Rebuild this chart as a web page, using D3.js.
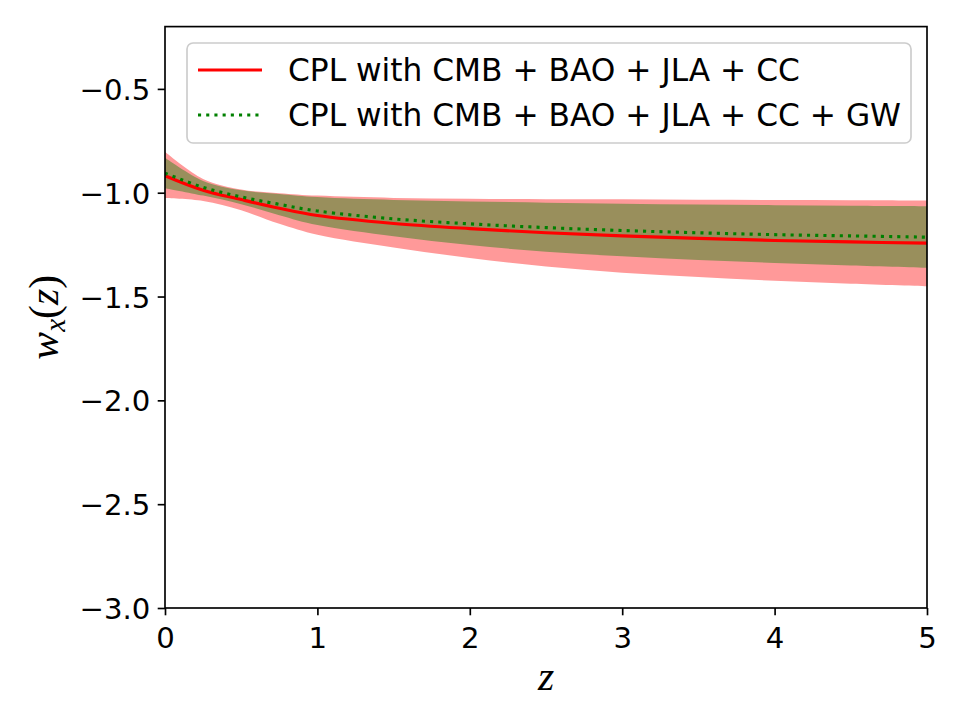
<!DOCTYPE html>
<html>
<head>
<meta charset="utf-8">
<script src="https://cdn.jsdelivr.net/npm/d3@7"></script>
<style>
  html, body { margin: 0; padding: 0; background: #fff; }
  svg { display: block; }
</style>
</head>
<body>
<svg id="chart" width="960" height="720"></svg>
<script>
// ---- data ----
const zValues   = [0, 0.25, 0.5, 0.75, 1, 1.5, 2, 2.5, 3, 3.5, 4, 4.5, 5];
// CPL with CMB + BAO + JLA + CC
const redMean   = [-0.918, -0.988, -1.033, -1.075, -1.110, -1.148, -1.173, -1.193, -1.208, -1.220, -1.230, -1.237, -1.243];
const redUpper  = [-0.803, -0.934, -0.985, -1.002, -1.014, -1.025, -1.029, -1.031, -1.032, -1.034, -1.035, -1.036, -1.037];
const redLower  = [-1.026, -1.040, -1.085, -1.150, -1.203, -1.264, -1.314, -1.355, -1.385, -1.406, -1.424, -1.438, -1.450];
// CPL with CMB + BAO + JLA + CC + GW
const greenMean  = [-0.906, -0.974, -1.020, -1.056, -1.088, -1.126, -1.150, -1.168, -1.182, -1.193, -1.202, -1.208, -1.214];
const greenUpper = [-0.832, -0.943, -0.988, -1.006, -1.021, -1.035, -1.042, -1.048, -1.053, -1.057, -1.060, -1.063, -1.065];
const greenLower = [-0.978, -1.014, -1.055, -1.108, -1.156, -1.210, -1.252, -1.284, -1.306, -1.324, -1.338, -1.350, -1.361];

const xTicks = [0, 1, 2, 3, 4, 5];
const yTicks = [-3.0, -2.5, -2.0, -1.5, -1.0, -0.5];
const legendLabels = ["CPL with CMB + BAO + JLA + CC", "CPL with CMB + BAO + JLA + CC + GW"];

// ---- layout ----
const svg = d3.select("#chart");
const L = 165, R = 927, T = 26.6, B = 608;
const x = d3.scaleLinear().domain([0, 5]).range([L, R]);
const y = d3.scaleLinear().domain([-3, -0.2]).range([B, T]);

const tickFont = "'DejaVu Sans', sans-serif";
const tickSize = 29.17;
const lw = 3.125;

svg.append("defs").append("clipPath").attr("id", "plotclip")
  .append("rect").attr("x", L).attr("y", T).attr("width", R - L).attr("height", B - T);

const g = svg.append("g").attr("clip-path", "url(#plotclip)");

const curve = d3.curveCatmullRom.alpha(0.5);
const idx = d3.range(zValues.length);
const area = (lo, hi) => d3.area()
  .x(i => x(zValues[i])).y0(i => y(lo[i])).y1(i => y(hi[i]))
  .curve(curve);
const line = (vals) => d3.line()
  .x(i => x(zValues[i])).y(i => y(vals[i]))
  .curve(curve);

g.append("path").attr("d", area(redLower, redUpper)(idx))
  .attr("fill", "red").attr("fill-opacity", 0.4);
g.append("path").attr("d", area(greenLower, greenUpper)(idx))
  .attr("fill", "green").attr("fill-opacity", 0.4);
g.append("path").attr("d", line(redMean)(idx))
  .attr("fill", "none").attr("stroke", "red").attr("stroke-width", lw);
g.append("path").attr("d", line(greenMean)(idx))
  .attr("fill", "none").attr("stroke", "green").attr("stroke-width", lw)
  .attr("stroke-dasharray", "3.1,5.1");

// ---- axes ----
const xAxis = d3.axisBottom(x).tickValues(xTicks).tickFormat(d3.format("d"))
  .tickSizeInner(7.3).tickSizeOuter(0).tickPadding(7.3);
const yAxis = d3.axisLeft(y).tickValues(yTicks).tickFormat(d3.format(".1f"))
  .tickSizeInner(7.3).tickSizeOuter(0).tickPadding(7.3);

const gx = svg.append("g").attr("transform", `translate(0,${B})`).call(xAxis);
const gy = svg.append("g").attr("transform", `translate(${L},0)`).call(yAxis);
[gx, gy].forEach(a => {
  a.select(".domain").remove();
  a.selectAll(".tick line").attr("stroke", "#000").attr("stroke-width", 1.67);
  a.selectAll(".tick text").attr("fill", "#000")
    .style("font-family", tickFont).style("font-size", tickSize + "px");
});
gx.selectAll(".tick text").attr("dy", null).attr("y", 39.5);
gy.selectAll(".tick text").attr("dy", "0.36em");

// frame
svg.append("rect").attr("x", L).attr("y", T).attr("width", R - L).attr("height", B - T)
  .attr("fill", "none").attr("stroke", "#000").attr("stroke-width", 1.67);

// axis labels
const mathFont = "'Liberation Serif', 'DejaVu Serif', serif";
svg.append("text").attr("x", (L + R) / 2).attr("y", 690)
  .attr("text-anchor", "middle")
  .style("font-family", mathFont).style("font-size", "41.7px").style("font-style", "italic")
  .text("z");

const yl = svg.append("text")
  .attr("transform", `translate(58,${(T + B) / 2}) rotate(-90)`)
  .attr("text-anchor", "middle")
  .style("font-family", mathFont).style("font-size", "41.7px");
yl.append("tspan").style("font-style", "italic").text("w");
yl.append("tspan").style("font-style", "italic").style("font-size", "29px").attr("dy", 7).text("x");
yl.append("tspan").attr("dy", -7).text("(");
yl.append("tspan").style("font-style", "italic").text("z");
yl.append("tspan").text(")");

// ---- legend ----
const lg = svg.append("g");
lg.append("rect").attr("x", 187).attr("y", 43).attr("width", 724).attr("height", 100)
  .attr("rx", 6).attr("fill", "#fff").attr("fill-opacity", 0.8)
  .attr("stroke", "#cccccc").attr("stroke-width", 1.67);
const legendStyles = [
  { color: "red", dash: null, y: 70 },
  { color: "green", dash: "3.1,5.1", y: 115 }
];
legendLabels.forEach((lab, i) => {
  const s = legendStyles[i];
  lg.append("line").attr("x1", 198).attr("x2", 262).attr("y1", s.y).attr("y2", s.y)
    .attr("stroke", s.color).attr("stroke-width", lw)
    .attr("stroke-dasharray", s.dash);
  lg.append("text").attr("x", 288).attr("y", s.y).attr("dy", "0.36em")
    .style("font-family", tickFont).style("font-size", "31.25px").attr("fill", "#000")
    .text(lab);
});
</script>
</body>
</html>
